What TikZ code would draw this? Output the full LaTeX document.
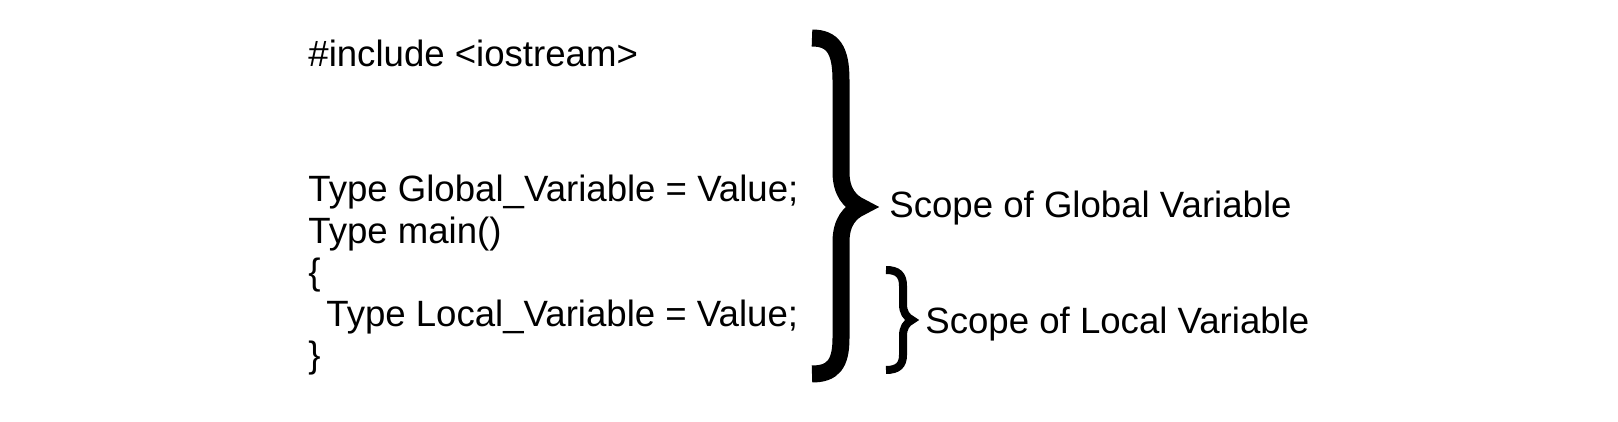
\documentclass[tikz,border=0pt]{standalone}
\usepackage{fontspec}
\setmainfont{Liberation Sans}
\begin{document}
\begin{tikzpicture}[x=0.5pt,y=-0.5pt,
  code/.style={anchor=base west,inner sep=0pt,font=\fontsize{18.3}{22}\selectfont},
  bigbrace/.style={line width=8.5pt,line join=miter},
  smallbrace/.style={line width=4pt,line join=miter}]

\useasboundingbox (0,0) rectangle (1618,422);
\node (inc) [code] at (308,67) {\#include <iostream>};
\node (glob) [code] at (308,202) {Type Global\_Variable = Value;};
\node (main) [code] at (308,244) {Type main()};
\node (open) [code] at (308,285) {\{};
\node (loc) [code] at (326,327) {Type Local\_Variable = Value;};
\node (close) [code] at (308,368) {\}};
\draw [bigbrace] (812,38) .. controls (833,38) and (841,50) .. (841,80) -- (841,172) .. controls (841,192) and (850,202) .. (861,207) .. controls (850,212) and (841,222) .. (841,242) -- (841,338) .. controls (841,364) and (833,374) .. (812,374);
\node (sglob) [code] at (889,218) {Scope of Global Variable};
\draw [smallbrace] (886,270) .. controls (898,270) and (903,275) .. (903,286) -- (903,304) .. controls (903,312) and (906,317) .. (912,320) .. controls (906,323) and (903,328) .. (903,336) -- (903,355) .. controls (903,365) and (898,370) .. (886,370);
\node (sloc) [code] at (925,334) {Scope of Local Variable};
\end{tikzpicture}
\end{document}
